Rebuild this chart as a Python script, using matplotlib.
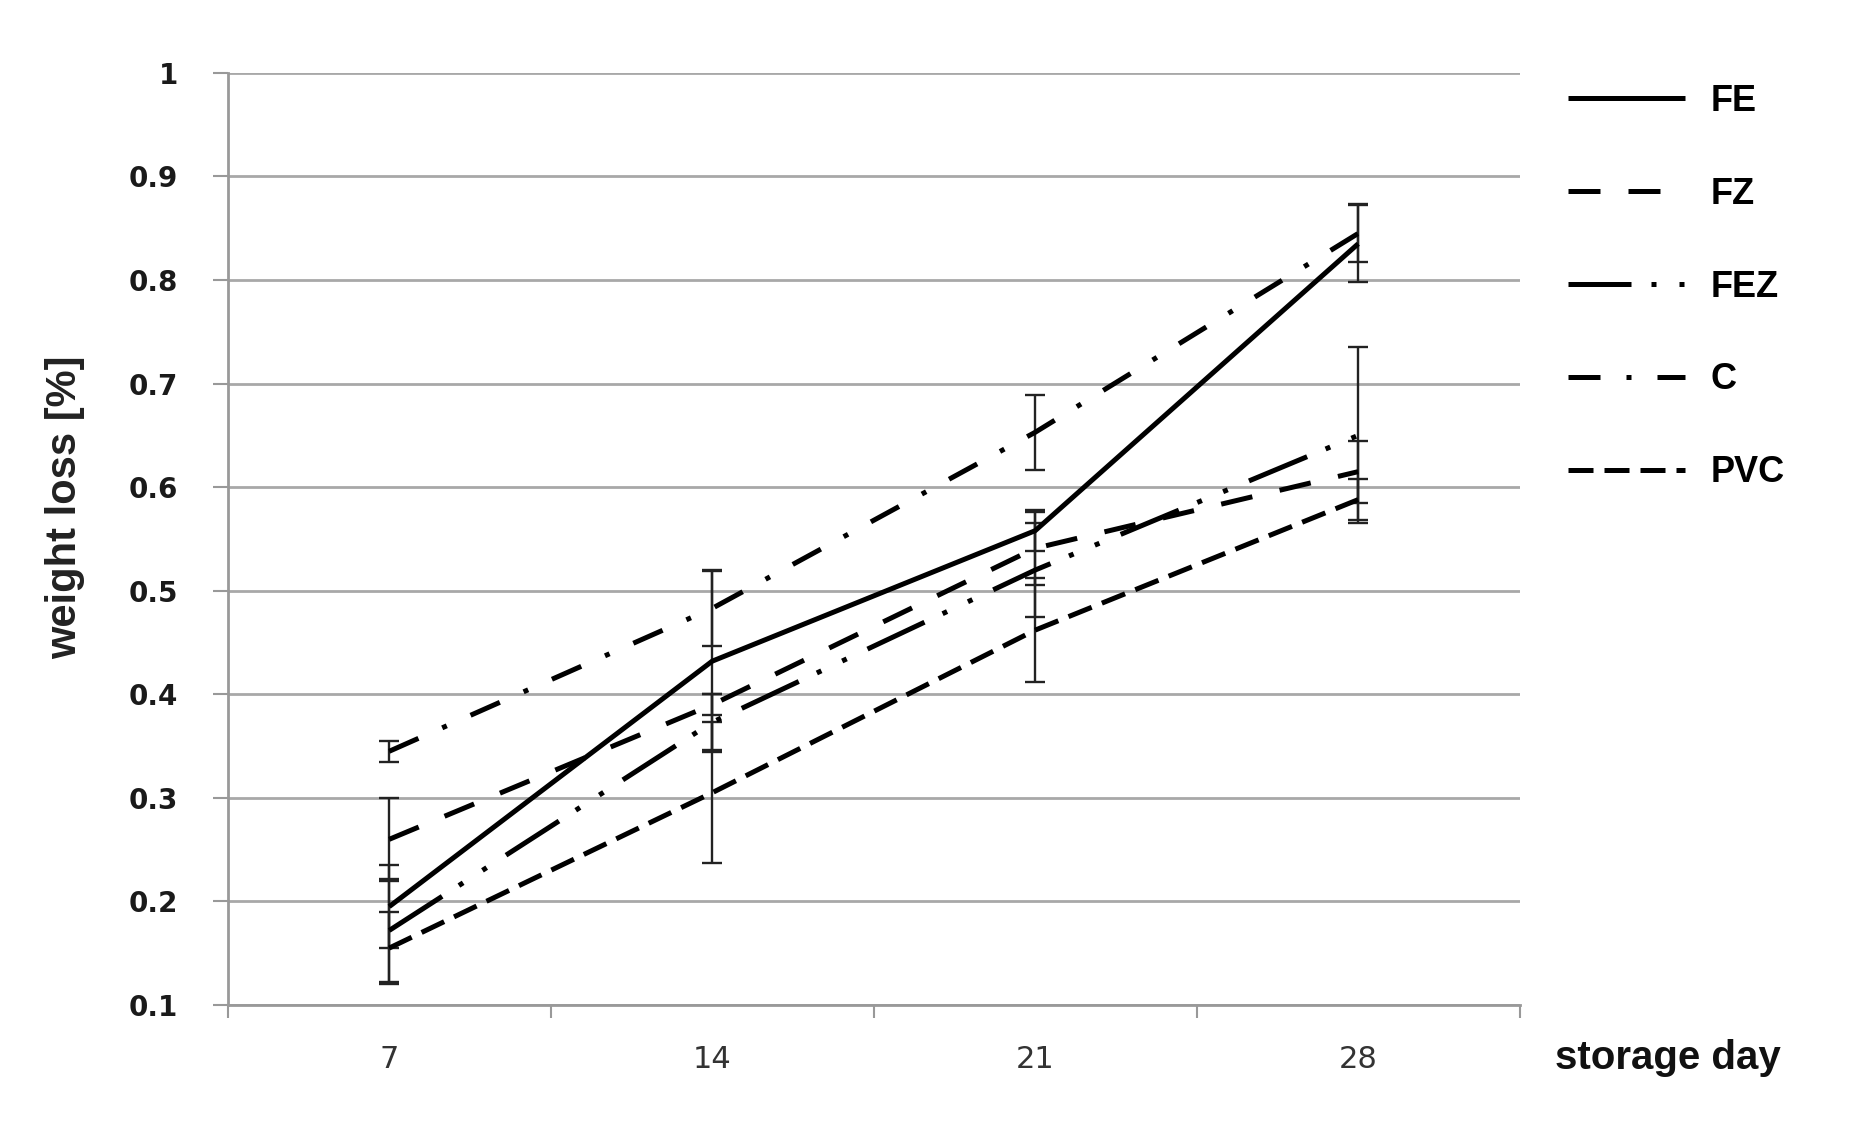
import numpy as np
import matplotlib.pyplot as plt
from matplotlib.lines import Line2D

days = ['7', '14', '21', '28']
series = ['FE', 'FZ', 'FEZ', 'C', 'PVC']
fe = [0.195, 0.432, 0.558, 0.835]
fz = [0.260, 0.390, 0.541, 0.615]
fez = [0.172, 0.373, 0.520, 0.650]
c = [0.345, 0.483, 0.653, 0.845]
pvc = [0.155, 0.305, 0.462, 0.588]
fe_err = [0.040, 0.088, 0.020, 0.037]
fz_err = [0.040, 0.010, 0.035, 0.030]
fez_err = [0.050, 0.027, 0.045, 0.085]
c_err = [0.010, 0.036, 0.036, 0.028]
pvc_err = [0.035, 0.068, 0.050, 0.020]

values = [fe, fz, fez, c, pvc]
errors = [fe_err, fz_err, fez_err, c_err, pvc_err]
# dash patterns, in multiples of the line width
dashes = [
    None,
    (6.4, 5.6),
    (12.6, 4.0, 1.0, 4.6, 1.0, 4.6),
    (6.4, 5.2, 1.0, 5.2),
    (5.0, 2.2),
]
LW = 3.6

fig = plt.figure(figsize=(18.51, 11.39), dpi=100)
ax = fig.add_axes([0.123, 0.1176, 0.698, 0.8184])

x = np.arange(1, len(days) + 1)
handles = []
for name, v, e, d in zip(series, values, errors, dashes):
    ax.errorbar(x, v, yerr=e, fmt='none', ecolor='#222222', elinewidth=1.7,
                capsize=7.5, capthick=1.7, zorder=3)
    line, = ax.plot(x, v, color='black', lw=LW, zorder=4, solid_capstyle='butt',
                    dash_capstyle='butt')
    h = Line2D([], [], color='black', lw=LW, solid_capstyle='butt', dash_capstyle='butt')
    if d is not None:
        line.set_dashes(d)
        h.set_dashes(d)
    handles.append(h)

ax.set_xlim(0.5, 4.5)
ax.set_ylim(0.1, 1.0)
ax.set_yticks(np.arange(0.1, 1.01, 0.1))
ax.set_yticklabels(['0.1', '0.2', '0.3', '0.4', '0.5', '0.6', '0.7', '0.8', '0.9', '1'],
                   fontweight='bold', fontsize=20, color='#1a1a1a')
ax.set_xticks(x)
ax.set_xticklabels(days, fontsize=22, color='#333333')
ax.set_xticks(np.arange(0.5, 4.6, 1), minor=True)
ax.tick_params(axis='x', which='major', length=0, pad=29)
ax.tick_params(axis='x', which='minor', length=9, width=1.5, color='#999999', direction='out')
ax.tick_params(axis='y', length=11, width=1.5, color='#999999', direction='out', pad=25)

ax.grid(axis='y', color='#a8a8a8', lw=2.0, zorder=0)
for s in ['top', 'right']:
    ax.spines[s].set_visible(False)
for s in ['left', 'bottom']:
    ax.spines[s].set_color('#999999')
    ax.spines[s].set_linewidth(2.0)

fig.text(0.035, 0.555, 'weight loss [%]', rotation=90, ha='center', va='center',
         fontsize=30, fontweight='bold', color='#222222',
         family=['Liberation Sans', 'DejaVu Sans'])
fig.text(0.901, 0.071, 'storage day', ha='center', va='center',
         fontsize=29, fontweight='bold', color='#111111',
         family=['Liberation Sans', 'DejaVu Sans'])

fig.legend(handles=handles, labels=series, loc='upper left',
           bbox_to_anchor=(0.8393, 0.9389), borderaxespad=0,
           frameon=False, handlelength=3.25, handletextpad=0.7,
           labelspacing=1.6, prop={'weight': 'bold', 'size': 26,
                                   'family': ['Liberation Sans', 'DejaVu Sans']})

fig.savefig('out.png', dpi=100, facecolor='white')
